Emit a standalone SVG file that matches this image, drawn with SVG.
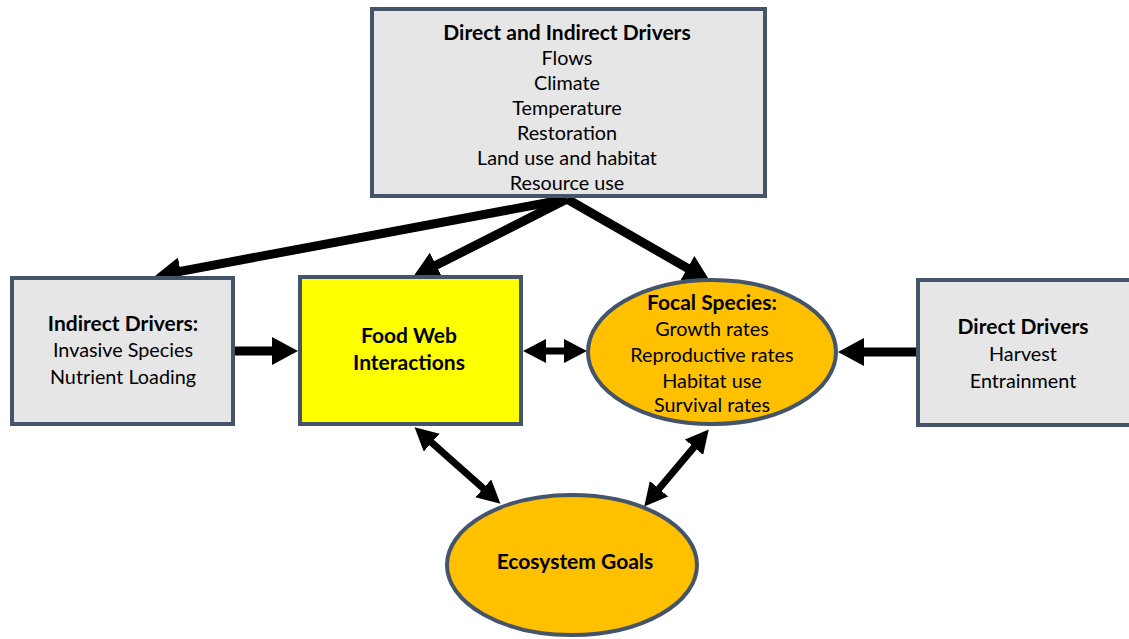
<svg xmlns="http://www.w3.org/2000/svg" width="1129" height="639" viewBox="0 0 1129 639">
<style>
.box{fill:#e7e6e6;stroke:#44546a;stroke-width:4}
.yel{fill:#ffff00;stroke:#44546a;stroke-width:4}
.ell{fill:#ffc000;stroke:#44546a;stroke-width:4}
text{font-family:Lato,"Liberation Sans",sans-serif;font-size:19.8px;fill:#000;text-anchor:middle}
.b{font-weight:bold;font-size:21px}
.arr{stroke:#000;stroke-width:9;fill:none}
.dbl{stroke:#000;stroke-width:7;fill:none}
</style>
<defs>
<marker id="ah" markerUnits="userSpaceOnUse" markerWidth="28" markerHeight="28" refX="3" refY="14" orient="auto"><path d="M0,0 L26,14 L0,28 z" fill="#000"/></marker>
<marker id="dh" markerUnits="userSpaceOnUse" markerWidth="24" markerHeight="24" refX="3" refY="12" orient="auto-start-reverse"><path d="M0,0 L23,12 L0,24 z" fill="#000"/></marker>
</defs>
<g id="connectors">
<line class="arr" x1="567" y1="199" x2="177.6" y2="271.8" marker-end="url(#ah)"/>
<line class="arr" x1="567" y1="199" x2="433.5" y2="266.6" marker-end="url(#ah)"/>
<line class="arr" x1="567" y1="199" x2="690" y2="269.6" marker-end="url(#ah)"/>
<line class="arr" x1="235" y1="351" x2="275" y2="351" marker-end="url(#ah)"/>
<line class="arr" x1="916" y1="352" x2="861" y2="352" marker-end="url(#ah)"/>
<line class="dbl" x1="543" y1="351" x2="567" y2="351" marker-start="url(#dh)" marker-end="url(#dh)"/>
<line class="dbl" x1="429.5" y1="440.6" x2="485.5" y2="490.4" marker-start="url(#dh)" marker-end="url(#dh)"/>
<line class="dbl" x1="695.9" y1="444.9" x2="657.1" y2="491.1" marker-start="url(#dh)" marker-end="url(#dh)"/>
</g>
<g id="top">
<rect class="box" x="372" y="9" width="393" height="187"/>
<text class="b" x="567" y="40">Direct and Indirect Drivers</text>
<text x="567" y="65">Flows</text>
<text x="567" y="90">Climate</text>
<text x="567" y="115">Temperature</text>
<text x="567" y="140">Restoration</text>
<text x="567" y="165">Land use and habitat</text>
<text x="567" y="190">Resource use</text>
</g>
<g id="indirect">
<rect class="box" x="12" y="278" width="221" height="146"/>
<text class="b" x="123" y="331">Indirect Drivers:</text>
<text x="123" y="357">Invasive Species</text>
<text x="123" y="384">Nutrient Loading</text>
</g>
<g id="foodweb">
<rect class="yel" x="300" y="277" width="221" height="147"/>
<text class="b" x="409" y="343">Food Web</text>
<text class="b" x="409" y="370">Interactions</text>
</g>
<g id="focal">
<ellipse class="ell" cx="712" cy="352" rx="124" ry="72"/>
<text class="b" x="712" y="310">Focal Species:</text>
<text x="712" y="336">Growth rates</text>
<text x="712" y="362">Reproductive rates</text>
<text x="712" y="388">Habitat use</text>
<text x="712" y="412">Survival rates</text>
</g>
<g id="direct">
<rect class="box" x="918" y="280" width="215" height="145"/>
<text class="b" x="1023" y="334">Direct Drivers</text>
<text x="1023" y="361">Harvest</text>
<text x="1023" y="388">Entrainment</text>
</g>
<g id="eco">
<ellipse class="ell" cx="572" cy="565" rx="125" ry="70"/>
<text class="b" x="575" y="569">Ecosystem Goals</text>
</g>
</svg>
